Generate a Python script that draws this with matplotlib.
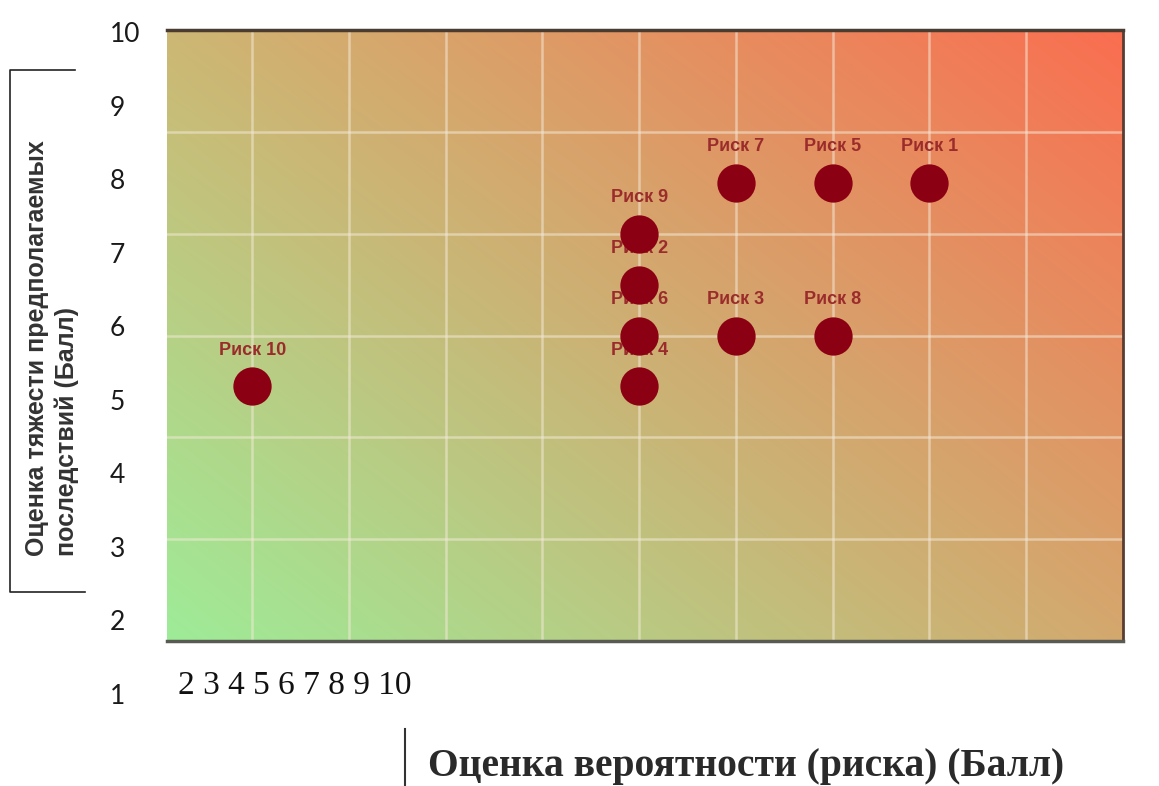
import numpy as np
import matplotlib.pyplot as plt
from matplotlib.lines import Line2D

# risk points: probability score (x) and severity score (y)
risk_names = ['Риск 1', 'Риск 2', 'Риск 3', 'Риск 4', 'Риск 5',
              'Риск 6', 'Риск 7', 'Риск 8', 'Риск 9', 'Риск 10']
probability = [8, 5, 6, 5, 7, 5, 6, 7, 5, 1]
severity = [4.5, 3.5, 3, 2.5, 4.5, 3, 4.5, 3, 4, 2.5]

# tick labels pasted around the chart
y_tick_values = list(range(1, 11))
y_tick_labels = ['1', '2', '3', '4', '5', '6', '7', '8', '9', '10']
x_tick_labels = ['2', '3', '4', '5', '6', '7', '8', '9', '10']

W, H = 1159, 786
fig = plt.figure(figsize=(W / 100, H / 100), dpi=100)


def fx(px):
    return px / W


def fy(py):
    return 1 - py / H


# main plotting area
ax = fig.add_axes([fx(167), fy(641), fx(1123) - fx(167), fy(30) - fy(641)])
xmin, xmax, ymin, ymax = 0.12, 10.0, 0.0, 6.0
ax.set_xlim(xmin, xmax)
ax.set_ylim(ymin, ymax)

# diagonal green -> tan -> red background
bl = np.array([158, 236, 152]) / 255
tl = np.array([205, 183, 116]) / 255
br = np.array([212, 168, 110]) / 255
tr = np.array([250, 110, 80]) / 255
u = np.linspace(0, 1, 300)[None, :, None]
v = np.linspace(0, 1, 300)[:, None, None]
grad = (bl * (1 - u) * (1 - v) + br * u * (1 - v) + tl * (1 - u) * v + tr * u * v)
ax.imshow(grad, origin='lower', extent=(xmin, xmax, ymin, ymax), aspect='auto', zorder=0)

# grid
for gx in range(1, 10):
    ax.axvline(gx, color='#f4ead8', alpha=0.55, lw=1.8, zorder=1)
for gy in range(1, 6):
    ax.axhline(gy, color='#f4ead8', alpha=0.55, lw=1.8, zorder=1)

ax.set_xticks([])
ax.set_yticks([])
ax.spines['left'].set_visible(False)
ax.spines['top'].set_color('#4a3c30')
ax.spines['top'].set_linewidth(2.5)
ax.spines['right'].set_color('#5a3c30')
ax.spines['right'].set_linewidth(2)
ax.spines['bottom'].set_color('#5a5a55')
ax.spines['bottom'].set_linewidth(2.5)

# points and labels
ax.scatter(probability, severity, s=760, color='#8c0014', zorder=4, linewidths=0)
for name, px, py in zip(risk_names, probability, severity):
    ax.annotate(name, (px, py), xytext=(0, 26), textcoords='offset points',
                ha='center', va='center', fontsize=13, fontweight='bold',
                color='#9b2c2c', family=['Liberation Sans Narrow', 'Liberation Sans'],
                zorder=3)

# pasted y tick numbers (left)
ax_y = fig.add_axes([fx(110), fy(694), 0.001, fy(32) - fy(694)])
ax_y.set_ylim(1, 10)
ax_y.set_yticks(y_tick_values)
ax_y.set_yticklabels(y_tick_labels, fontsize=19, family='Lato', color='#1a1a1a', ha='left')
ax_y.tick_params(axis='y', length=0, pad=0)
ax_y.set_xticks([])
for s in ax_y.spines.values():
    s.set_visible(False)
ax_y.patch.set_visible(False)

# pasted x tick numbers (bottom)
fig.text(fx(178), fy(686), ' '.join(x_tick_labels), fontsize=24,
         family='Liberation Serif', color='#111111', va='center', ha='left')

# y axis title with bracket
fig.text(fx(52), fy(556), 'Оценка тяжести предполагаемых\nпоследствий (Балл)',
         rotation=90, ha='center', va='bottom', multialignment='left', linespacing=1.3,
         fontsize=18, fontweight='bold', family='Liberation Sans', color='#333333')
fig.add_artist(Line2D([fx(75), fx(10), fx(10), fx(85)], [fy(70), fy(70), fy(592), fy(592)],
                      color='#222222', lw=1.2))

# x axis title with separator
fig.text(fx(428), fy(776), 'Оценка вероятности (риска) (Балл)', fontsize=28.5,
         fontweight='bold', family='Liberation Serif', color='#2a2a2a',
         va='baseline', ha='left')
fig.add_artist(Line2D([fx(405), fx(405)], [fy(729), fy(786)], color='#333333', lw=1.5))

fig.savefig('out.png', dpi=100)
